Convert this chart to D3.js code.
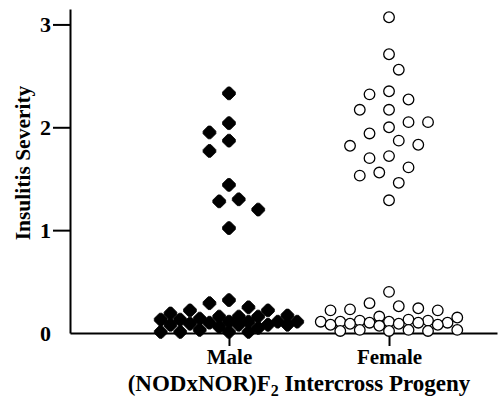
<!DOCTYPE html>
<html><head><meta charset="utf-8">
<script src="https://cdn.jsdelivr.net/npm/d3@7"></script>
<style>
body{margin:0;background:#fff}
svg{display:block}
text{font-family:"Liberation Serif","Times New Roman",Times,serif;font-weight:bold;fill:#000}
</style>
</head><body>
<svg id="chart" width="498" height="400"></svg>
<script>
// ---- data ----
const groups = ["Male", "Female"];
const maleValues = [2.33, 2.04, 1.95, 1.87, 1.77, 1.44, 1.30, 1.28, 1.20, 1.02,
  0.32, 0.29, 0.25, 0.22, 0.22, 0.19, 0.17, 0.16, 0.16, 0.16, 0.14, 0.13, 0.13,
  0.11, 0.11, 0.11, 0.11, 0.10, 0.09, 0.08, 0.08, 0.08, 0.08, 0.06, 0.05, 0.03,
  0.01, 0.01, 0.01, 0.01];
const femaleValues = [3.07, 2.71, 2.56, 2.35, 2.32, 2.27, 2.17, 2.17, 2.05, 2.05,
  2.00, 1.94, 1.87, 1.83, 1.82, 1.72, 1.70, 1.61, 1.56, 1.53, 1.46, 1.29,
  0.40, 0.29, 0.26, 0.24, 0.23, 0.22, 0.22, 0.16, 0.15, 0.13, 0.12, 0.12, 0.11,
  0.11, 0.11, 0.10, 0.10, 0.10, 0.09, 0.09, 0.08, 0.08, 0.07, 0.03, 0.03, 0.03,
  0.02, 0.02, 0.02];
const yTicks = [0, 1, 2, 3];
const yTitle = "Insulitis Severity";
const xTitleMain = "(NODxNOR)F";
const xTitleSub = "2";
const xTitleRest = " Intercross Progeny";

// ---- layout ----
const plotLeft = 70, plotRight = 497, plotTop = 9, baseY = 333;
const svg = d3.select("#chart");

const x = d3.scalePoint().domain(groups).range([plotLeft, plotRight]).padding(0.834).align(0.5955);
const y = d3.scaleLinear().domain([0, 3.15]).range([baseY, plotTop]);

// grid beeswarm: half-column slots, no overlap unless width limit reached
const D = 16.5, h = 9.75, maxHalf = 72;
function swarm(values, group) {
  const pts = [];
  const sorted = values.slice().sort((a, b) => b - a);
  const maxK = Math.floor(maxHalf / h);
  const cands = [0];
  for (let k = 1; k <= maxK; k++) cands.push(k % 2 ? k * h : -k * h, k % 2 ? -k * h : k * h);
  for (const v of sorted) {
    const py = y(v);
    let chosen = null, best = -1, bestOff = 0;
    for (const c of cands) {
      let md = Infinity;
      for (const p of pts) {
        const d = Math.hypot(p.dx - c, p.py - py);
        if (d < md) md = d;
      }
      if (md >= D) { chosen = c; break; }
      if (md > best + 0.01) { best = md; bestOff = c; }
    }
    pts.push({ group, v, py, dx: chosen !== null ? chosen : bestOff });
  }
  return pts;
}

const malePts = swarm(maleValues, "Male");
const femalePts = swarm(femaleValues, "Female");

// axes
const yAxis = d3.axisLeft(y).tickValues(yTicks).tickFormat(d3.format("d"))
  .tickSize(17).tickPadding(2).tickSizeOuter(0);
const gy = svg.append("g").attr("transform", `translate(${plotLeft},0)`).call(yAxis);
gy.select(".domain").attr("stroke", "#000").attr("stroke-width", 2);
gy.selectAll(".tick line").attr("stroke", "#000").attr("stroke-width", 2)
  .attr("opacity", d => d === 0 ? 0 : 1);
gy.selectAll(".tick text").attr("font-size", 22).attr("font-family", null).attr("fill", "#000");

const xAxis = d3.axisBottom(x).tickSize(13).tickPadding(3).tickSizeOuter(0);
const gx = svg.append("g").attr("transform", `translate(0,${baseY})`).call(xAxis);
gx.select(".domain").attr("stroke", "#000").attr("stroke-width", 2);
gx.selectAll(".tick line").attr("stroke", "#000").attr("stroke-width", 2);
gx.selectAll(".tick text").attr("font-size", 21).attr("font-family", null).attr("fill", "#000");

// titles
svg.append("text")
  .attr("transform", `translate(30,163) rotate(-90)`)
  .attr("text-anchor", "middle").attr("font-size", 21.5).text(yTitle);

const tx = svg.append("text")
  .attr("x", 299).attr("y", 391)
  .attr("text-anchor", "middle").attr("font-size", 23);
tx.append("tspan").text(xTitleMain);
tx.append("tspan").attr("font-size", 16).attr("dy", 5).text(xTitleSub);
tx.append("tspan").attr("dy", -5).text(xTitleRest);

// markers
const oct = "M6.4,-1.3L6.4,1.3L1.3,6.4L-1.3,6.4L-6.4,1.3L-6.4,-1.3L-1.3,-6.4L1.3,-6.4Z";
svg.append("g").selectAll("path").data(malePts).join("path")
  .attr("d", oct)
  .attr("transform", d => `translate(${x(d.group) + d.dx},${y(d.v)})`)
  .attr("fill", "#000").attr("stroke", "#000").attr("stroke-width", 0.8)
  .attr("stroke-linejoin", "round");

svg.append("g").selectAll("circle").data(femalePts).join("circle")
  .attr("cx", d => x(d.group) + d.dx).attr("cy", d => y(d.v)).attr("r", 5.3)
  .attr("fill", "#fff").attr("stroke", "#000").attr("stroke-width", 1.3);
</script>
</body></html>
